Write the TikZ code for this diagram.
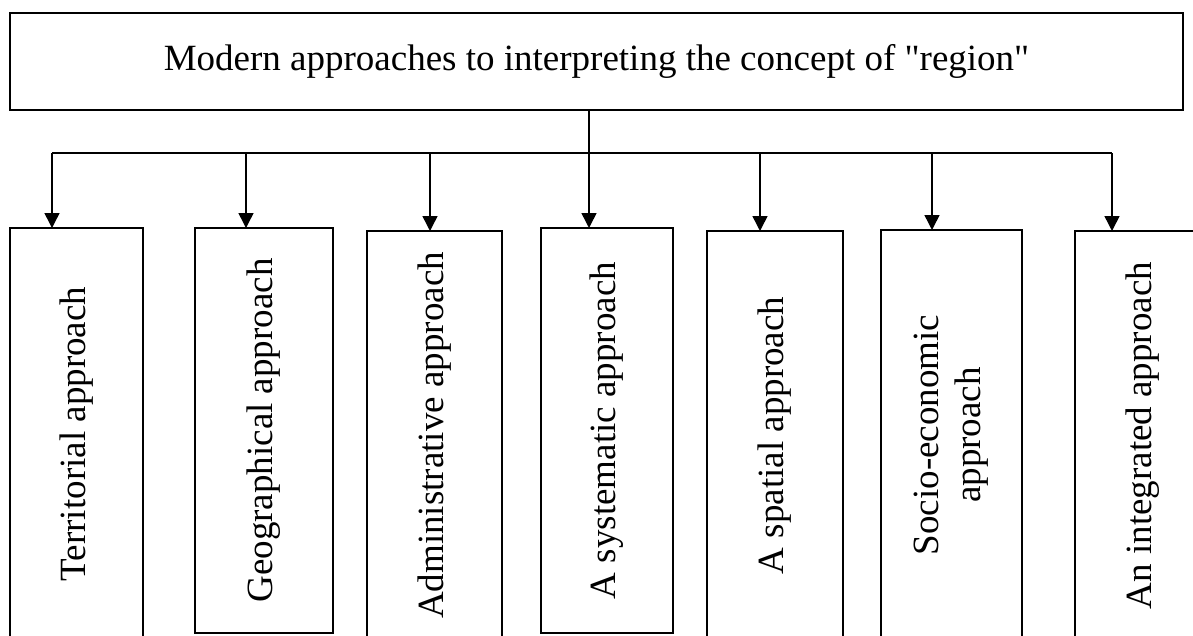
\documentclass[tikz,border=0pt]{standalone}
\usepackage{fontspec}
\setmainfont{Liberation Serif}[Ligatures=TeXOff]
\usetikzlibrary{arrows.meta}
\begin{document}
\begin{tikzpicture}[x=1pt,y=-1pt,
  frame/.style={draw, line width=2.6pt, inner sep=0pt, outer sep=0pt},
  approach/.style={frame, anchor=north west},
  link/.style={line width=1.5pt},
  feed/.style={link, -{Triangle[length=15pt,width=15pt]}},
  font=\fontsize{37}{42}\selectfont]
\clip (0,0) rectangle (1193,635);

% heading box
\node[frame, minimum width=1173pt, minimum height=97pt] (top) at (596.5,61.5)
  {Modern approaches to interpreting the concept of "region"};

% the seven approaches
\node[approach, minimum width=133pt, minimum height=412pt] (b1) at (10,228)
  {\rotatebox{90}{Territorial approach}};
\node[approach, minimum width=138pt, minimum height=405pt] (b2) at (195,228)
  {\rotatebox{90}{Geographical approach}};
\node[approach, minimum width=135pt, minimum height=409pt] (b3) at (367,231)
  {\rotatebox{90}{Administrative approach}};
\node[approach, minimum width=132pt, minimum height=405pt] (b4) at (541,228)
  {\rotatebox{90}{A systematic approach}};
\node[approach, minimum width=136pt, minimum height=409pt] (b5) at (707,231)
  {\rotatebox{90}{A spatial approach}};
\node[approach, minimum width=141pt, minimum height=410pt] (b6) at (881,230)
  {\rotatebox{90}{\begin{tabular}{@{}c@{}}Socio-economic\\approach\end{tabular}}};
\node[approach, minimum width=135pt, minimum height=409pt] (b7) at (1075,231)
  {\rotatebox{90}{An integrated approach}};

% distribution bus
\coordinate (j) at (589,153);
\coordinate (a1) at (52,153);
\coordinate (a2) at (246,153);
\coordinate (a3) at (430,153);
\coordinate (a4) at (589,153);
\coordinate (a5) at (760,153);
\coordinate (a6) at (932,153);
\coordinate (a7) at (1112,153);

\draw[link] (top.south -| j) -- (j);
\draw[link] (a1) -- (a7);
\foreach \i in {1,...,7}
  \draw[feed] (a\i) -- (a\i |- b\i.north);
\end{tikzpicture}
\end{document}
